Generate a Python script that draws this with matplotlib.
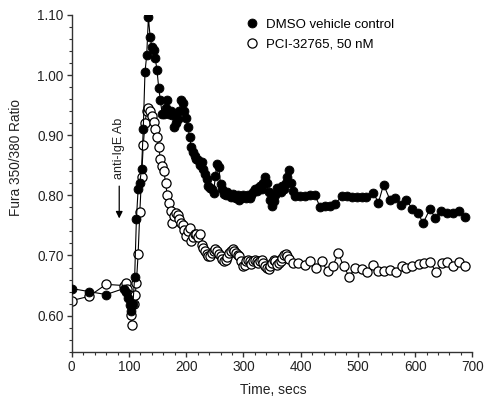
import matplotlib
matplotlib.use("Agg")
import matplotlib.pyplot as plt
from matplotlib.ticker import MultipleLocator, FormatStrFormatter

plt.rcParams['font.family'] = ['Liberation Sans', 'DejaVu Sans']

# DMSO vehicle control (filled circles)
dmso_t = [0, 30, 60, 91, 95, 98, 101, 104, 107, 110, 113, 116, 119, 122, 125, 128, 131, 134, 137, 140,
          143, 146, 149, 152, 155, 158, 161, 164, 167, 170, 173, 176, 179, 182, 185, 188, 191, 194, 197, 200,
          203, 206, 209, 212, 215, 218, 221, 224, 227, 230, 233, 236, 239, 242, 245, 248, 251, 254, 257, 260,
          263, 266, 269, 272, 275, 278, 281, 284, 287, 290, 293, 296, 299, 302, 305, 308, 311, 314, 317, 320,
          323, 326, 329, 332, 335, 338, 341, 344, 347, 350, 353, 356, 359, 362, 365, 368, 371, 374, 377, 380,
          383, 386, 390, 399, 408, 417, 425, 434, 443, 452, 460, 472, 481, 489, 498, 507, 515, 527, 536, 545,
          556, 565, 576, 585, 595, 605, 614, 626, 635, 646, 656, 667, 677, 687]
dmso_v = [0.645, 0.640, 0.635, 0.645, 0.640, 0.630, 0.618, 0.608, 0.620, 0.665, 0.760, 0.810, 0.821, 0.844, 0.910, 1.005, 1.033, 1.096, 1.063, 1.047,
          1.041, 1.028, 1.008, 0.979, 0.958, 0.936, 0.936, 0.945, 0.958, 0.936, 0.940, 0.933, 0.913, 0.920, 0.927, 0.940, 0.958, 0.953, 0.940, 0.928,
          0.914, 0.897, 0.880, 0.872, 0.866, 0.860, 0.858, 0.850, 0.855, 0.844, 0.835, 0.827, 0.816, 0.812, 0.810, 0.804, 0.833, 0.852, 0.848, 0.819,
          0.810, 0.802, 0.800, 0.805, 0.800, 0.798, 0.802, 0.798, 0.795, 0.800, 0.793, 0.796, 0.800, 0.798, 0.795, 0.800, 0.796, 0.800, 0.805, 0.810,
          0.808, 0.812, 0.816, 0.810, 0.820, 0.831, 0.821, 0.805, 0.793, 0.782, 0.790, 0.800, 0.813, 0.808, 0.805, 0.815, 0.810, 0.820, 0.830, 0.842,
          0.820, 0.808, 0.799, 0.799, 0.799, 0.800, 0.800, 0.781, 0.782, 0.782, 0.785, 0.799, 0.799, 0.798, 0.798, 0.797, 0.797, 0.804, 0.788, 0.818,
          0.793, 0.796, 0.784, 0.793, 0.777, 0.771, 0.754, 0.777, 0.763, 0.774, 0.771, 0.771, 0.774, 0.764]

# PCI-32765, 50 nM (open circles)
pci_t = [0, 30, 60, 91, 94, 97, 100, 103, 105, 108, 111, 113, 116, 119, 122, 125, 128, 131, 134, 137,
         140, 143, 146, 149, 152, 155, 158, 161, 164, 167, 170, 173, 176, 179, 182, 185, 188, 191, 194, 197,
         200, 203, 206, 209, 212, 215, 218, 221, 224, 227, 230, 233, 236, 239, 242, 245, 248, 251, 254, 257,
         260, 263, 266, 269, 272, 275, 278, 281, 284, 287, 290, 293, 296, 299, 302, 305, 308, 311, 314, 317,
         320, 323, 326, 329, 332, 335, 338, 341, 344, 347, 350, 353, 356, 359, 362, 365, 368, 371, 374, 377,
         380, 387, 396, 408, 416, 427, 437, 447, 456, 466, 475, 485, 495, 507, 516, 527, 536, 545, 556, 567,
         577, 585, 595, 606, 615, 626, 637, 647, 656, 667, 677, 687]
pci_v = [0.625, 0.632, 0.652, 0.650, 0.655, 0.645, 0.635, 0.601, 0.584, 0.620, 0.635, 0.655, 0.702, 0.773, 0.830, 0.883, 0.920, 0.940, 0.945, 0.941,
         0.932, 0.922, 0.910, 0.897, 0.880, 0.860, 0.849, 0.841, 0.821, 0.800, 0.788, 0.774, 0.754, 0.765, 0.771, 0.768, 0.760, 0.754, 0.750, 0.743,
         0.732, 0.740, 0.746, 0.724, 0.730, 0.735, 0.735, 0.730, 0.735, 0.718, 0.712, 0.707, 0.702, 0.699, 0.699, 0.704, 0.707, 0.710, 0.707, 0.703,
         0.699, 0.694, 0.690, 0.692, 0.698, 0.704, 0.708, 0.710, 0.708, 0.704, 0.700, 0.699, 0.690, 0.682, 0.685, 0.690, 0.692, 0.690, 0.686, 0.690,
         0.692, 0.690, 0.688, 0.690, 0.693, 0.687, 0.683, 0.680, 0.678, 0.682, 0.687, 0.692, 0.690, 0.685, 0.687, 0.690, 0.695, 0.700, 0.703, 0.699,
         0.694, 0.687, 0.688, 0.684, 0.690, 0.680, 0.690, 0.674, 0.682, 0.704, 0.682, 0.665, 0.679, 0.678, 0.672, 0.684, 0.674, 0.674, 0.676, 0.672,
         0.682, 0.679, 0.682, 0.686, 0.687, 0.689, 0.672, 0.687, 0.689, 0.682, 0.689, 0.683]

series_labels = ["DMSO vehicle control", "PCI-32765, 50 nM"]
x_label = "Time, secs"
y_label = "Fura 350/380 Ratio"
annot_text = "anti-IgE Ab"
annot_time = 83
annot_tip = 0.757

fig = plt.figure(figsize=(4.93, 4.01), dpi=100)
ax = fig.add_axes([0.1455, 0.123, 0.8125, 0.8396])

ax.plot(pci_t, pci_v, color='black', lw=0.8, marker='o', ms=6.6,
        mfc='white', mec='black', mew=0.9, label=series_labels[1], zorder=2)
ax.plot(dmso_t, dmso_v, color='black', lw=0.8, marker='o', ms=6.4,
        mfc='black', mec='black', mew=0.6, label=series_labels[0], zorder=3)

ax.set_xlim(0, 700)
ax.set_ylim(0.54, 1.10)
ax.xaxis.set_major_locator(MultipleLocator(100))
ax.xaxis.set_minor_locator(MultipleLocator(20))
ax.set_yticks([0.6, 0.7, 0.8, 0.9, 1.0, 1.1])
ax.yaxis.set_major_formatter(FormatStrFormatter('%.2f'))
ax.yaxis.set_minor_locator(MultipleLocator(0.02))

for s in ['top', 'right']:
    ax.spines[s].set_visible(False)
for s in ['left', 'bottom']:
    ax.spines[s].set_linewidth(1.0)
    ax.spines[s].set_color('#333333')
ax.tick_params(which='major', direction='out', length=3.5, width=1.0, labelsize=9.8,
               colors='#333333', labelcolor='#222222')
ax.tick_params(axis='x', which='major', pad=2.2)
ax.tick_params(axis='y', which='major', pad=2.5)
ax.tick_params(which='minor', direction='out', length=2.0, width=0.8, colors='#333333')

ax.set_xlabel(x_label, fontsize=10, color='#222222')
ax.xaxis.set_label_coords(0.5025, -0.093)
ax.set_ylabel(y_label, fontsize=9.8, color='#222222')
ax.yaxis.set_label_coords(-0.121, 0.578)

# annotation arrow and text
ax.annotate('', xy=(annot_time, annot_tip), xytext=(annot_time, annot_tip + 0.063),
            arrowprops=dict(arrowstyle='-|>', color='black', lw=0.9, mutation_scale=10))
ax.text(annot_time, annot_tip + 0.07, annot_text, rotation=90, ha='center', va='bottom',
        fontsize=9, color='#222222')

h, l = ax.get_legend_handles_labels()
leg = ax.legend(h[::-1], l[::-1], loc='upper left', bbox_to_anchor=(0.42, 1.025), frameon=False,
                fontsize=9.5, handlelength=0, handletextpad=1.1, labelspacing=0.6, markerscale=1.0)
for lh in leg.legend_handles:
    lh.set_linestyle('none')

fig.savefig('out.png', dpi=100)
